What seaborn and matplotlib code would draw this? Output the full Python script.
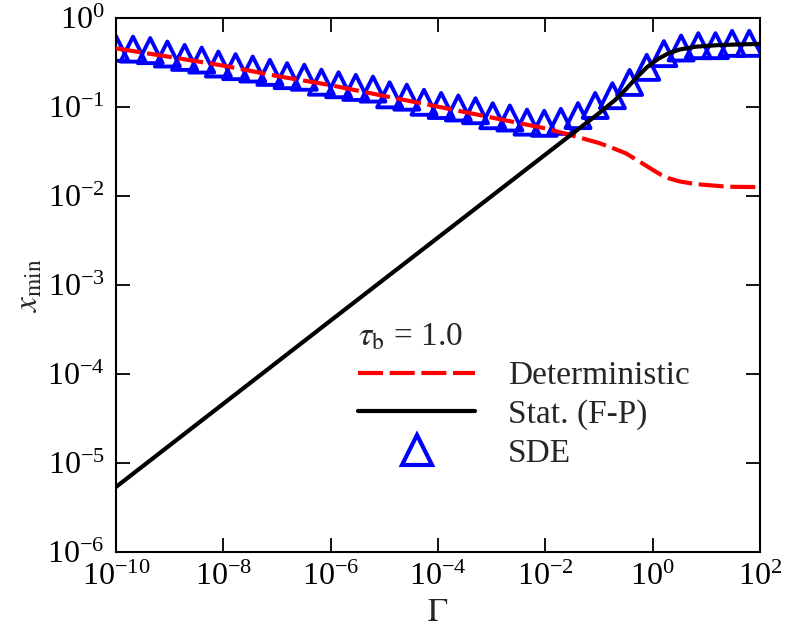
import numpy as np
import pandas as pd
import matplotlib
matplotlib.use("Agg")
import matplotlib.pyplot as plt
import seaborn as sns
from matplotlib.lines import Line2D
from matplotlib.ticker import FixedLocator, NullLocator, LogFormatterMathtext

# ---------------- data ----------------
det_gamma = [1e-10, 1e-9, 1e-8, 1e-7, 1e-6, 1e-5, 1e-4, 1e-3, 1e-2, 3.16e-2,
             1e-1, 0.178, 0.316, 0.562, 1.0, 1.41, 2.0, 3.16, 6.31, 10.0, 25.0, 100.0]
det_x = [0.456, 0.366, 0.292, 0.223, 0.176, 0.133, 0.101, 0.0762, 0.0575, 0.0479,
         0.0394, 0.0347, 0.0302, 0.0245, 0.0197, 0.0174, 0.0158, 0.0146, 0.0136,
         0.0133, 0.0127, 0.0126]

fp_gamma = [1e-10, 1e-6, 1e-2, 1e-1, 0.2, 0.316, 0.5, 0.794, 1.26, 2.0, 3.16,
            6.31, 15.8, 39.8, 100.0]
fp_x = [5.37e-6, 3.98e-4, 0.0292, 0.0851, 0.120, 0.158, 0.214, 0.282, 0.347,
        0.403, 0.442, 0.476, 0.495, 0.505, 0.511]

sde_gamma = [1.00e-10, 2.09e-10, 4.37e-10, 9.12e-10, 1.91e-09, 3.98e-09, 8.13e-09,
             1.70e-08, 3.55e-08, 7.41e-08, 1.55e-07, 3.24e-07, 6.76e-07, 1.41e-06,
             2.95e-06, 6.17e-06, 1.26e-05, 2.63e-05, 5.50e-05, 1.15e-04, 2.40e-04,
             5.01e-04, 1.05e-03, 2.19e-03, 4.57e-03, 9.55e-03, 1.95e-02, 4.07e-02,
             8.51e-02, 0.178, 0.372, 0.776, 1.62, 3.39, 7.08, 14.8, 30.2, 63.1]
sde_x = [0.457, 0.447, 0.430, 0.394, 0.361, 0.337, 0.304, 0.284, 0.267, 0.245,
         0.225, 0.216, 0.190, 0.178, 0.166, 0.159, 0.137, 0.129, 0.113, 0.104,
         0.0975, 0.0908, 0.0798, 0.0752, 0.0676, 0.0656, 0.0690, 0.0800, 0.104,
         0.134, 0.189, 0.279, 0.398, 0.460, 0.489, 0.489, 0.519, 0.519]

x_ticks = [1e-10, 1e-8, 1e-6, 1e-4, 1e-2, 1e0, 1e2]
y_ticks = [1e-6, 1e-5, 1e-4, 1e-3, 1e-2, 1e-1, 1e0]

legend_title = r"$\tau_{\rm b}$ = 1.0"
labels = ["Deterministic", "Stat. (F-P)", "SDE"]

# ---------------- style ----------------
sns.set_theme(style="ticks")
plt.rcParams.update({
    "font.family": ["Liberation Serif", "DejaVu Serif"],
    "mathtext.fontset": "stix",
    "axes.linewidth": 1.5,
    "xtick.direction": "in",
    "ytick.direction": "in",
    "xtick.top": True,
    "ytick.right": True,
    "xtick.major.size": 10,
    "ytick.major.size": 10,
    "xtick.major.width": 1.3,
    "ytick.major.width": 1.3,
    "xtick.color": "black",
    "ytick.color": "black",
    "axes.edgecolor": "black",
})

TICK_FS = 23
FS = 24
fig = plt.figure(figsize=(7.88, 6.34), dpi=100)
ax = fig.add_axes([0.147, 0.1293, 0.8175, 0.8423])
ax.set_xscale("log")
ax.set_yscale("log")

sns.scatterplot(x=sde_gamma, y=sde_x, ax=ax, marker="^", s=18 ** 2,
                linewidth=2.8, zorder=2, legend=False)
coll = ax.collections[-1]
coll.set_facecolor("none")
coll.set_edgecolor("blue")
coll.set_linewidth(2.8)

sns.lineplot(x=det_gamma, y=det_x, ax=ax, color="red", linewidth=3,
             zorder=3, legend=False)
ax.lines[-1].set_linestyle((0, (6, 1.6)))
sns.lineplot(x=fp_gamma, y=fp_x, ax=ax, color="black", linewidth=3,
             zorder=3, legend=False)

ax.set_xlim(1e-10, 1e2)
ax.set_ylim(1e-6, 1e0)
ax.xaxis.set_major_locator(FixedLocator(x_ticks))
ax.yaxis.set_major_locator(FixedLocator(y_ticks))
ax.xaxis.set_minor_locator(NullLocator())
ax.yaxis.set_minor_locator(NullLocator())
ax.xaxis.set_major_formatter(LogFormatterMathtext())
ax.yaxis.set_major_formatter(LogFormatterMathtext())
ax.tick_params(labelsize=TICK_FS, pad=8)

ax.set_xlabel(r"$\Gamma$", fontsize=FS, labelpad=4)
ax.set_ylabel(r"$x_{\rm min}$", fontsize=FS, labelpad=2)

handles = [
    Line2D([], [], color="red", lw=3, ls=(0, (6, 1.6))),
    Line2D([], [], color="black", lw=3),
    Line2D([], [], ls="", marker="^", ms=21, mfc="none", mec="blue", mew=3),
]
leg = ax.legend(handles, labels, title=legend_title, frameon=False,
                loc="upper left", bbox_to_anchor=(0.376, 0.431),
                borderpad=0, borderaxespad=0, handlelength=117 / (FS * 100 / 72),
                handletextpad=33 / (FS * 100 / 72), labelspacing=0.25,
                alignment="left", fontsize=FS, title_fontsize=FS)

fig.savefig("out.png", dpi=100)
